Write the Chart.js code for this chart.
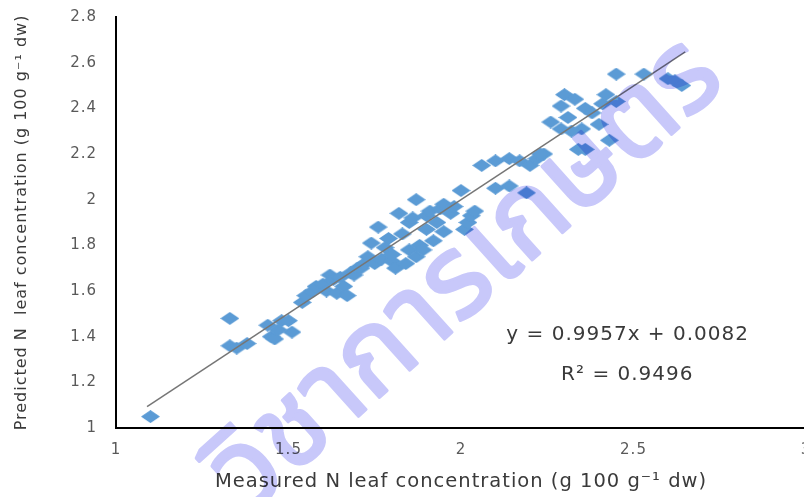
<!DOCTYPE html>
<html lang="en">
<head>
    <meta charset="UTF-8">
    <title>Measured vs predicted N leaf concentration</title>
    <script src="https://cdn.jsdelivr.net/npm/chart.js"></script>
    <style>
        html, body {
            margin: 0;
            padding: 0;
            background: #FFFFFF;
            overflow: hidden;
        }
        .chart-box {
            position: absolute;
            left: 0;
            top: 0;
            width: 815px;
            height: 497px;
        }
    </style>
</head>
<body>
    <div class="chart-box">
        <canvas id="nLeafChart"></canvas>
    </div>

    <script>
        // measured (x) and predicted (y) N leaf concentration, g 100 g-1 dw
        const measured = [
            1.10, 1.33, 1.33, 1.35, 1.38, 1.44, 1.45, 1.46, 1.48, 1.50, 1.51, 1.47,
            1.54, 1.55, 1.57, 1.58, 1.60, 1.61, 1.62, 1.63, 1.64, 1.65, 1.66, 1.67, 1.68,
            1.69, 1.70, 1.71, 1.72, 1.73, 1.74, 1.75, 1.76, 1.77, 1.78, 1.79, 1.80, 1.80,
            1.81, 1.82, 1.83, 1.84, 1.85, 1.85, 1.86, 1.87, 1.87, 1.88, 1.89, 1.90, 1.90,
            1.91, 1.92, 1.93, 1.94, 1.95, 1.95, 1.97, 1.98, 2.00, 2.01, 2.02, 2.03, 2.04,
            2.06, 2.10, 2.14, 2.17, 2.20, 2.22, 2.24, 2.10, 2.14, 2.19, 2.23,
            2.29, 2.29, 2.30, 2.31, 2.33, 2.34, 2.35, 2.36, 2.36, 2.38, 2.40, 2.41, 2.42,
            2.43, 2.45, 2.45, 2.53, 2.60, 2.62, 2.64, 2.26, 2.32
        ];
        const predicted = [
            1.05, 1.48, 1.36, 1.35, 1.37, 1.45, 1.40, 1.39, 1.47, 1.47, 1.42, 1.43,
            1.55, 1.58, 1.60, 1.62, 1.63, 1.60, 1.67, 1.65, 1.59, 1.66, 1.62, 1.58, 1.68,
            1.67, 1.70, 1.70, 1.72, 1.75, 1.81, 1.72, 1.88, 1.74, 1.79, 1.83, 1.73, 1.76,
            1.70, 1.94, 1.85, 1.72, 1.78, 1.90, 1.92, 2.00, 1.75, 1.80, 1.78, 1.93, 1.87,
            1.95, 1.82, 1.90, 1.96, 1.86, 1.98, 1.94, 1.97, 2.04, 1.87, 1.90, 1.93, 1.95,
            2.15, 2.17, 2.18, 2.17, 2.15, 2.18, 2.20, 2.05, 2.06, 2.03, 2.20,
            2.41, 2.31, 2.46, 2.36, 2.44, 2.22, 2.31, 2.40, 2.22, 2.38, 2.33, 2.42, 2.46,
            2.26, 2.43, 2.55, 2.55, 2.53, 2.52, 2.50, 2.34, 2.30
        ];

        const xTicks = [1, 1.5, 2, 2.5, 3];
        const yTicks = [1, 1.2, 1.4, 1.6, 1.8, 2, 2.2, 2.4, 2.6, 2.8];

        // linear fit shown on the chart
        const slope = 0.9957;
        const intercept = 0.0082;
        const rSquared = 0.9496;
        const fitRange = [1.09, 2.65];

        const watermark = 'วิชาการเกษตร';

        const points = measured.map((x, i) => ({ x: x, y: predicted[i] }));
        const fitLine = fitRange.map(x => ({ x: x, y: slope * x + intercept }));

        // flattened diamond marker, like the spreadsheet default
        function diamondMarker(w, h, color) {
            const c = document.createElement('canvas');
            c.width = w;
            c.height = h;
            const g = c.getContext('2d');
            g.fillStyle = color;
            g.beginPath();
            g.moveTo(w / 2, 0);
            g.lineTo(w, h / 2);
            g.lineTo(w / 2, h);
            g.lineTo(0, h / 2);
            g.closePath();
            g.fill();
            return c;
        }
        const marker = diamondMarker(19, 13, '#5B9BD5');

        const fontFamily = '"DejaVu Sans", sans-serif';
        const textColor = '#3A3A3A';
        const tickColor = '#595959';

        // the source picture is slightly stretched sideways, so space letters a bit
        const wideText = {
            id: 'wideText',
            beforeDraw(chart) {
                chart.ctx.letterSpacing = '1px';
            }
        };

        const overlayText = {
            id: 'overlayText',
            afterDraw(chart) {
                const ctx = chart.ctx;
                const xs = chart.scales.x;
                const ys = chart.scales.y;
                ctx.save();
                ctx.letterSpacing = '1px';
                ctx.fillStyle = textColor;
                ctx.font = '20px ' + fontFamily;
                ctx.textAlign = 'center';
                ctx.textBaseline = 'middle';
                const eq = 'y = ' + slope + 'x + ' + intercept.toFixed(4);
                ctx.fillText(eq, xs.getPixelForValue(2.483), ys.getPixelForValue(1.41));
                ctx.fillText('R\u00B2 = ' + rSquared, xs.getPixelForValue(2.482), ys.getPixelForValue(1.233));
                ctx.restore();

                // watermark: drawn on its own layer, then multiplied over the chart
                const layer = document.createElement('canvas');
                layer.width = chart.width;
                layer.height = chart.height;
                const g = layer.getContext('2d');
                g.fillStyle = 'rgb(200, 200, 250)';
                g.strokeStyle = 'rgb(200, 200, 250)';
                g.lineWidth = 3;
                g.lineJoin = 'round';
                g.textAlign = 'center';
                g.textBaseline = 'middle';
                g.translate(473, 282);
                g.rotate(-42 * Math.PI / 180);
                g.font = '115px "Noto Sans Thai", "Noto Sans", sans-serif';
                g.fillText(watermark, 0, 0);
                g.strokeText(watermark, 0, 0);

                ctx.save();
                ctx.globalCompositeOperation = 'multiply';
                ctx.drawImage(layer, 0, 0, chart.width, chart.height);
                ctx.restore();
            }
        };

        new Chart(document.getElementById('nLeafChart'), {
            type: 'scatter',
            data: {
                datasets: [
                    {
                        type: 'line',
                        data: fitLine,
                        borderColor: '#767676',
                        borderWidth: 1.5,
                        pointRadius: 0,
                        fill: false,
                        order: 0
                    },
                    {
                        data: points,
                        pointStyle: marker,
                        pointRadius: 8,
                        order: 1
                    }
                ]
            },
            options: {
                responsive: true,
                maintainAspectRatio: false,
                animation: false,
                layout: {
                    padding: { top: 17, right: 5, left: 0, bottom: 0 }
                },
                plugins: {
                    legend: { display: false },
                    tooltip: { enabled: false }
                },
                scales: {
                    x: {
                        type: 'linear',
                        min: 1,
                        max: 3,
                        afterBuildTicks: s => { s.ticks = xTicks.map(v => ({ value: v })); },
                        afterFit: s => {
                            s.height = 69;
                            s.paddingLeft = 0;
                            s.paddingRight = 0;
                        },
                        grid: { display: false, drawTicks: false },
                        border: { display: true, color: '#000000', width: 2 },
                        ticks: {
                            color: tickColor,
                            padding: 13,
                            font: { family: fontFamily, size: 15 },
                            callback: v => String(v)
                        },
                        title: {
                            display: true,
                            text: 'Measured N leaf concentration (g 100 g\u207B\u00B9 dw)',
                            color: textColor,
                            font: { family: fontFamily, size: 19.5 },
                            padding: { top: 0, bottom: 3 }
                        }
                    },
                    y: {
                        type: 'linear',
                        min: 1,
                        max: 2.8,
                        afterBuildTicks: s => { s.ticks = yTicks.map(v => ({ value: v })); },
                        afterFit: s => {
                            s.width = 116;
                            s.paddingTop = 0;
                            s.paddingBottom = 0;
                        },
                        grid: { display: false, drawTicks: false },
                        border: { display: true, color: '#000000', width: 2 },
                        ticks: {
                            color: tickColor,
                            padding: 19,
                            font: { family: fontFamily, size: 15 },
                            callback: v => String(v)
                        },
                        title: {
                            display: true,
                            text: 'Predicted N  leaf concentration (g 100 g\u207B\u00B9 dw)',
                            color: textColor,
                            font: { family: fontFamily, size: 16 },
                            padding: { top: 12, bottom: 0 }
                        }
                    }
                }
            },
            plugins: [wideText, overlayText]
        });
    </script>
</body>
</html>
